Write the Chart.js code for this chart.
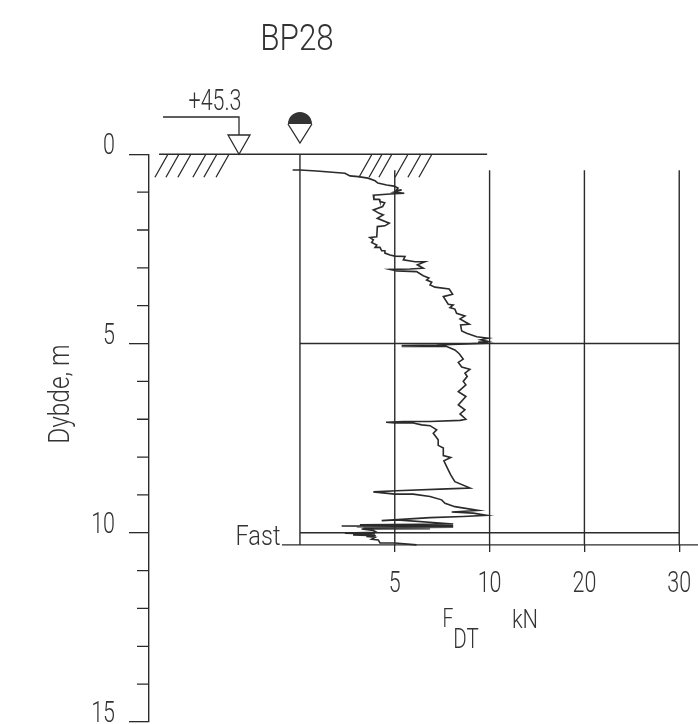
<!DOCTYPE html>
<html>
<head>
<meta charset="utf-8">
<title>BP28</title>
<style>
  html, body { margin: 0; padding: 0; background: #fff; }
  #wrap { width: 698px; height: 724px; }
</style>
<script src="https://cdn.jsdelivr.net/npm/chart.js@4"></script>
</head>
<body>
<div id="wrap"><canvas id="grafico" width="698" height="724"></canvas></div>
<script>
// sounding trace
const kraft = [-0.385,0,0.88,2.37,2.64,3.07,3.59,3.96,4.11,4.57,4.96,5.17,5.06,5.36,4.96,5.50,4.75,3.87,3.90,4.18,4.22,4.47,4.36,3.87,4.18,4.39,4.08,4.71,4.48,4.08,4.05,3.69,3.87,3.78,4.05,3.96,4.22,4.31,4.48,4.48,4.75,5.01,5.54,5.45,6.07,6.59,6.19,6.50,5.80,4.75,5.10,6.15,6.50,6.80,6.68,6.95,6.86,7.12,7.87,8.05,7.56,7.82,8.08,7.91,8.17,8.26,8.70,8.44,8.93,8.47,8.53,8.79,9.32,9.93,9.53,9.93,9.40,9.93,7.21,5.36,7.74,5.36,7.74,5.36,7.74,8.17,8.40,8.61,8.35,8.53,8.96,8.70,8.82,8.61,8.75,8.35,8.75,8.35,8.70,8.44,8.75,8.44,6.86,5.45,4.54,5.01,5.97,6.42,6.86,7.21,7.03,7.29,7.29,7.56,7.56,7.95,7.59,7.82,7.95,8.17,8.97,7.74,5.10,3.87,5.01,5.97,6.86,7.47,7.65,8.17,9.40,8.00,9.14,9.85,8.61,6.86,4.31,5.10,8.08,3.16,8.08,3.40,8.08,2.20,8.08,3.00,8.08,3.34,6.86,3.34,6.86,3.25,3.87,4.05,2.37,3.96,2.80,4.00,3.50,3.96,3.78,4.13,4.22,5.01,6.15]
const dybde = [0.415,0.415,0.44,0.50,0.57,0.59,0.63,0.70,0.76,0.81,0.84,0.89,0.96,0.94,1.00,1.03,1.05,1.08,1.19,1.19,1.25,1.28,1.38,1.47,1.56,1.60,1.69,1.82,1.89,1.91,2.18,2.20,2.26,2.33,2.40,2.46,2.46,2.55,2.55,2.61,2.66,2.69,2.70,2.79,2.84,2.84,2.92,3.01,3.03,3.04,3.08,3.10,3.21,3.27,3.32,3.38,3.45,3.51,3.56,3.70,3.76,3.96,3.98,4.05,4.09,4.20,4.27,4.35,4.49,4.51,4.67,4.73,4.82,4.86,4.90,4.95,4.96,4.99,5.04,5.05,5.05,5.06,5.07,5.08,5.08,5.17,5.27,5.41,5.50,5.62,5.68,5.78,5.87,6.00,6.09,6.27,6.40,6.62,6.75,6.86,7.00,7.03,7.06,7.06,7.08,7.10,7.10,7.15,7.17,7.28,7.37,7.54,7.69,7.76,7.96,8.01,8.10,8.34,8.47,8.65,8.82,8.84,8.89,8.92,8.98,8.98,9.04,9.13,9.22,9.31,9.41,9.45,9.48,9.54,9.57,9.60,9.68,9.66,9.77,9.79,9.80,9.81,9.82,9.82,9.83,9.84,9.85,9.87,9.87,9.88,9.89,9.90,9.94,9.99,10.01,10.03,10.06,10.08,10.10,10.12,10.17,10.19,10.27,10.27,10.32]

// the force axis is compressed above 10 kN, so 20 and 30 sit at 15 and 20
const xTicks = [5, 10, 15, 20]
const xLabels = ['5', '10', '20', '30']
const yMajor = [0, 5, 10, 15]
const yMinor = [1, 2, 3, 4, 6, 7, 8, 9, 11, 12, 13, 14]
const fastDybde = 10.32
const skjaerDybder = [5, 10]
const hatchVenstre = [-7.33, -6.75, -6.12, -5.33, -4.75, -4.11]
const hatchHoejre = [3.43, 3.96, 4.48, 5.33, 6.01, 6.59]

const FONT = 'Roboto, "Liberation Sans", sans-serif'
const STREG = '#2b2b2b'

function linje(xs, ys, bredde) {
    return {
        data: xs.map((x, i) => ({ x, y: ys[i] })),
        showLine: true,
        borderColor: STREG,
        borderWidth: bredde || 1.4,
        pointRadius: 0,
        tension: 0,
        clip: false
    }
}

const datasets = [
    linje([-7.43, 9.87], [0, 0]),
    linje([0, 0], [0, fastDybde]),
    linje([5, 5], [0.42, fastDybde]),
    linje([10, 10], [0.42, fastDybde]),
    linje([15, 15], [0.42, fastDybde]),
    linje([20, 20], [0.42, fastDybde]),
    linje([0, 20], [skjaerDybder[0], skjaerDybder[0]]),
    linje([0, 20], [skjaerDybder[1], skjaerDybder[1]]),
    linje([-0.95, 20.99], [fastDybde, fastDybde]),
    linje(kraft, dybde, 1.6)
]

// the original lettering is a thin, narrow stencil face, so squeeze it sideways
function tekst(c, s, x, y, size, sx, align) {
    c.save()
    c.translate(x, y)
    c.scale(sx || 1, 1)
    c.font = '300 ' + size + 'px ' + FONT
    c.fillStyle = '#333'
    c.textAlign = align || 'center'
    c.textBaseline = 'alphabetic'
    c.fillText(s, 0, 0)
    c.restore()
}

const tegning = {
    id: 'tegning',
    afterDraw(chart) {
        const c = chart.ctx
        const sx = chart.scales.x
        const sy = chart.scales.y
        const y0 = sy.getPixelForValue(0)
        c.save()
        c.strokeStyle = STREG
        c.lineWidth = 1.3

        // minor depth ticks
        c.beginPath()
        yMinor.forEach(v => {
            const p = sy.getPixelForValue(v)
            c.moveTo(137, p)
            c.lineTo(149, p)
        })
        c.stroke()

        // terrain hatching
        c.beginPath()
        hatchVenstre.concat(hatchHoejre).forEach(v => {
            const p = sx.getPixelForValue(v)
            c.moveTo(p + 7, y0)
            c.lineTo(p - 6, y0 + 23)
        })
        c.stroke()

        // level marker
        c.beginPath()
        c.moveTo(163, 117)
        c.lineTo(239, 117)
        c.lineTo(239, 135)
        c.moveTo(228, 135)
        c.lineTo(250, 135)
        c.lineTo(239, y0)
        c.closePath()
        c.stroke()

        // water marker
        const xv = sx.getPixelForValue(0)
        c.beginPath()
        c.arc(xv, 124, 12, Math.PI, 0)
        c.closePath()
        c.fillStyle = '#333'
        c.fill()
        c.beginPath()
        c.moveTo(xv - 12, 124)
        c.lineTo(xv, 143)
        c.lineTo(xv + 12, 124)
        c.stroke()
        c.restore()

        // tick labels come from the scales, only the drawing is squeezed
        sy.ticks.forEach(t => tekst(c, t.label, 115, sy.getPixelForValue(t.value), 29, 0.74, 'right'))
        sx.ticks.forEach(t => tekst(c, t.label, sx.getPixelForValue(t.value), 592, 29, 0.74))

        tekst(c, 'BP28', 297, 50, 37, 0.85)
        tekst(c, '+45.3', 215, 110, 29, 0.74)
        tekst(c, 'Fast', 258, 545, 28, 0.84)
        tekst(c, 'F', 448, 627, 26, 0.74)
        tekst(c, 'DT', 466, 648, 27, 0.76)
        tekst(c, 'kN', 525, 628, 26, 0.84)

        c.save()
        c.translate(69, 394)
        c.rotate(-Math.PI / 2)
        tekst(c, 'Dybde, m', 0, 0, 29, 0.84)
        c.restore()
    }
}

new Chart(document.getElementById('grafico').getContext('2d'), {
    type: 'scatter',
    data: { datasets },
    plugins: [tegning],
    options: {
        responsive: false,
        animation: false,
        layout: { padding: { top: 154.3, bottom: 2, left: 0, right: 0 } },
        plugins: { legend: { display: false }, tooltip: { enabled: false } },
        scales: {
            x: {
                type: 'linear',
                position: { y: fastDybde },
                min: -7.96,
                max: 20.99,
                afterBuildTicks: s => { s.ticks = xTicks.map(value => ({ value })) },
                afterFit: s => { s.height = 0; s.paddingLeft = 0; s.paddingRight = 0 },
                border: { display: false },
                grid: { drawOnChartArea: false, tickLength: 7, color: STREG, lineWidth: 1.3 },
                ticks: { display: false, autoSkip: false, callback: (v, i) => xLabels[i] }
            },
            y: {
                reverse: true,
                min: 0,
                max: 15,
                afterBuildTicks: s => { s.ticks = yMajor.map(value => ({ value })) },
                afterFit: s => { s.width = 149; s.paddingTop = 0; s.paddingBottom = 0 },
                border: { color: STREG, width: 1.4 },
                grid: { drawOnChartArea: false, tickLength: 20, color: STREG, lineWidth: 1.3 },
                ticks: { display: false }
            }
        }
    }
})
</script>
</body>
</html>
